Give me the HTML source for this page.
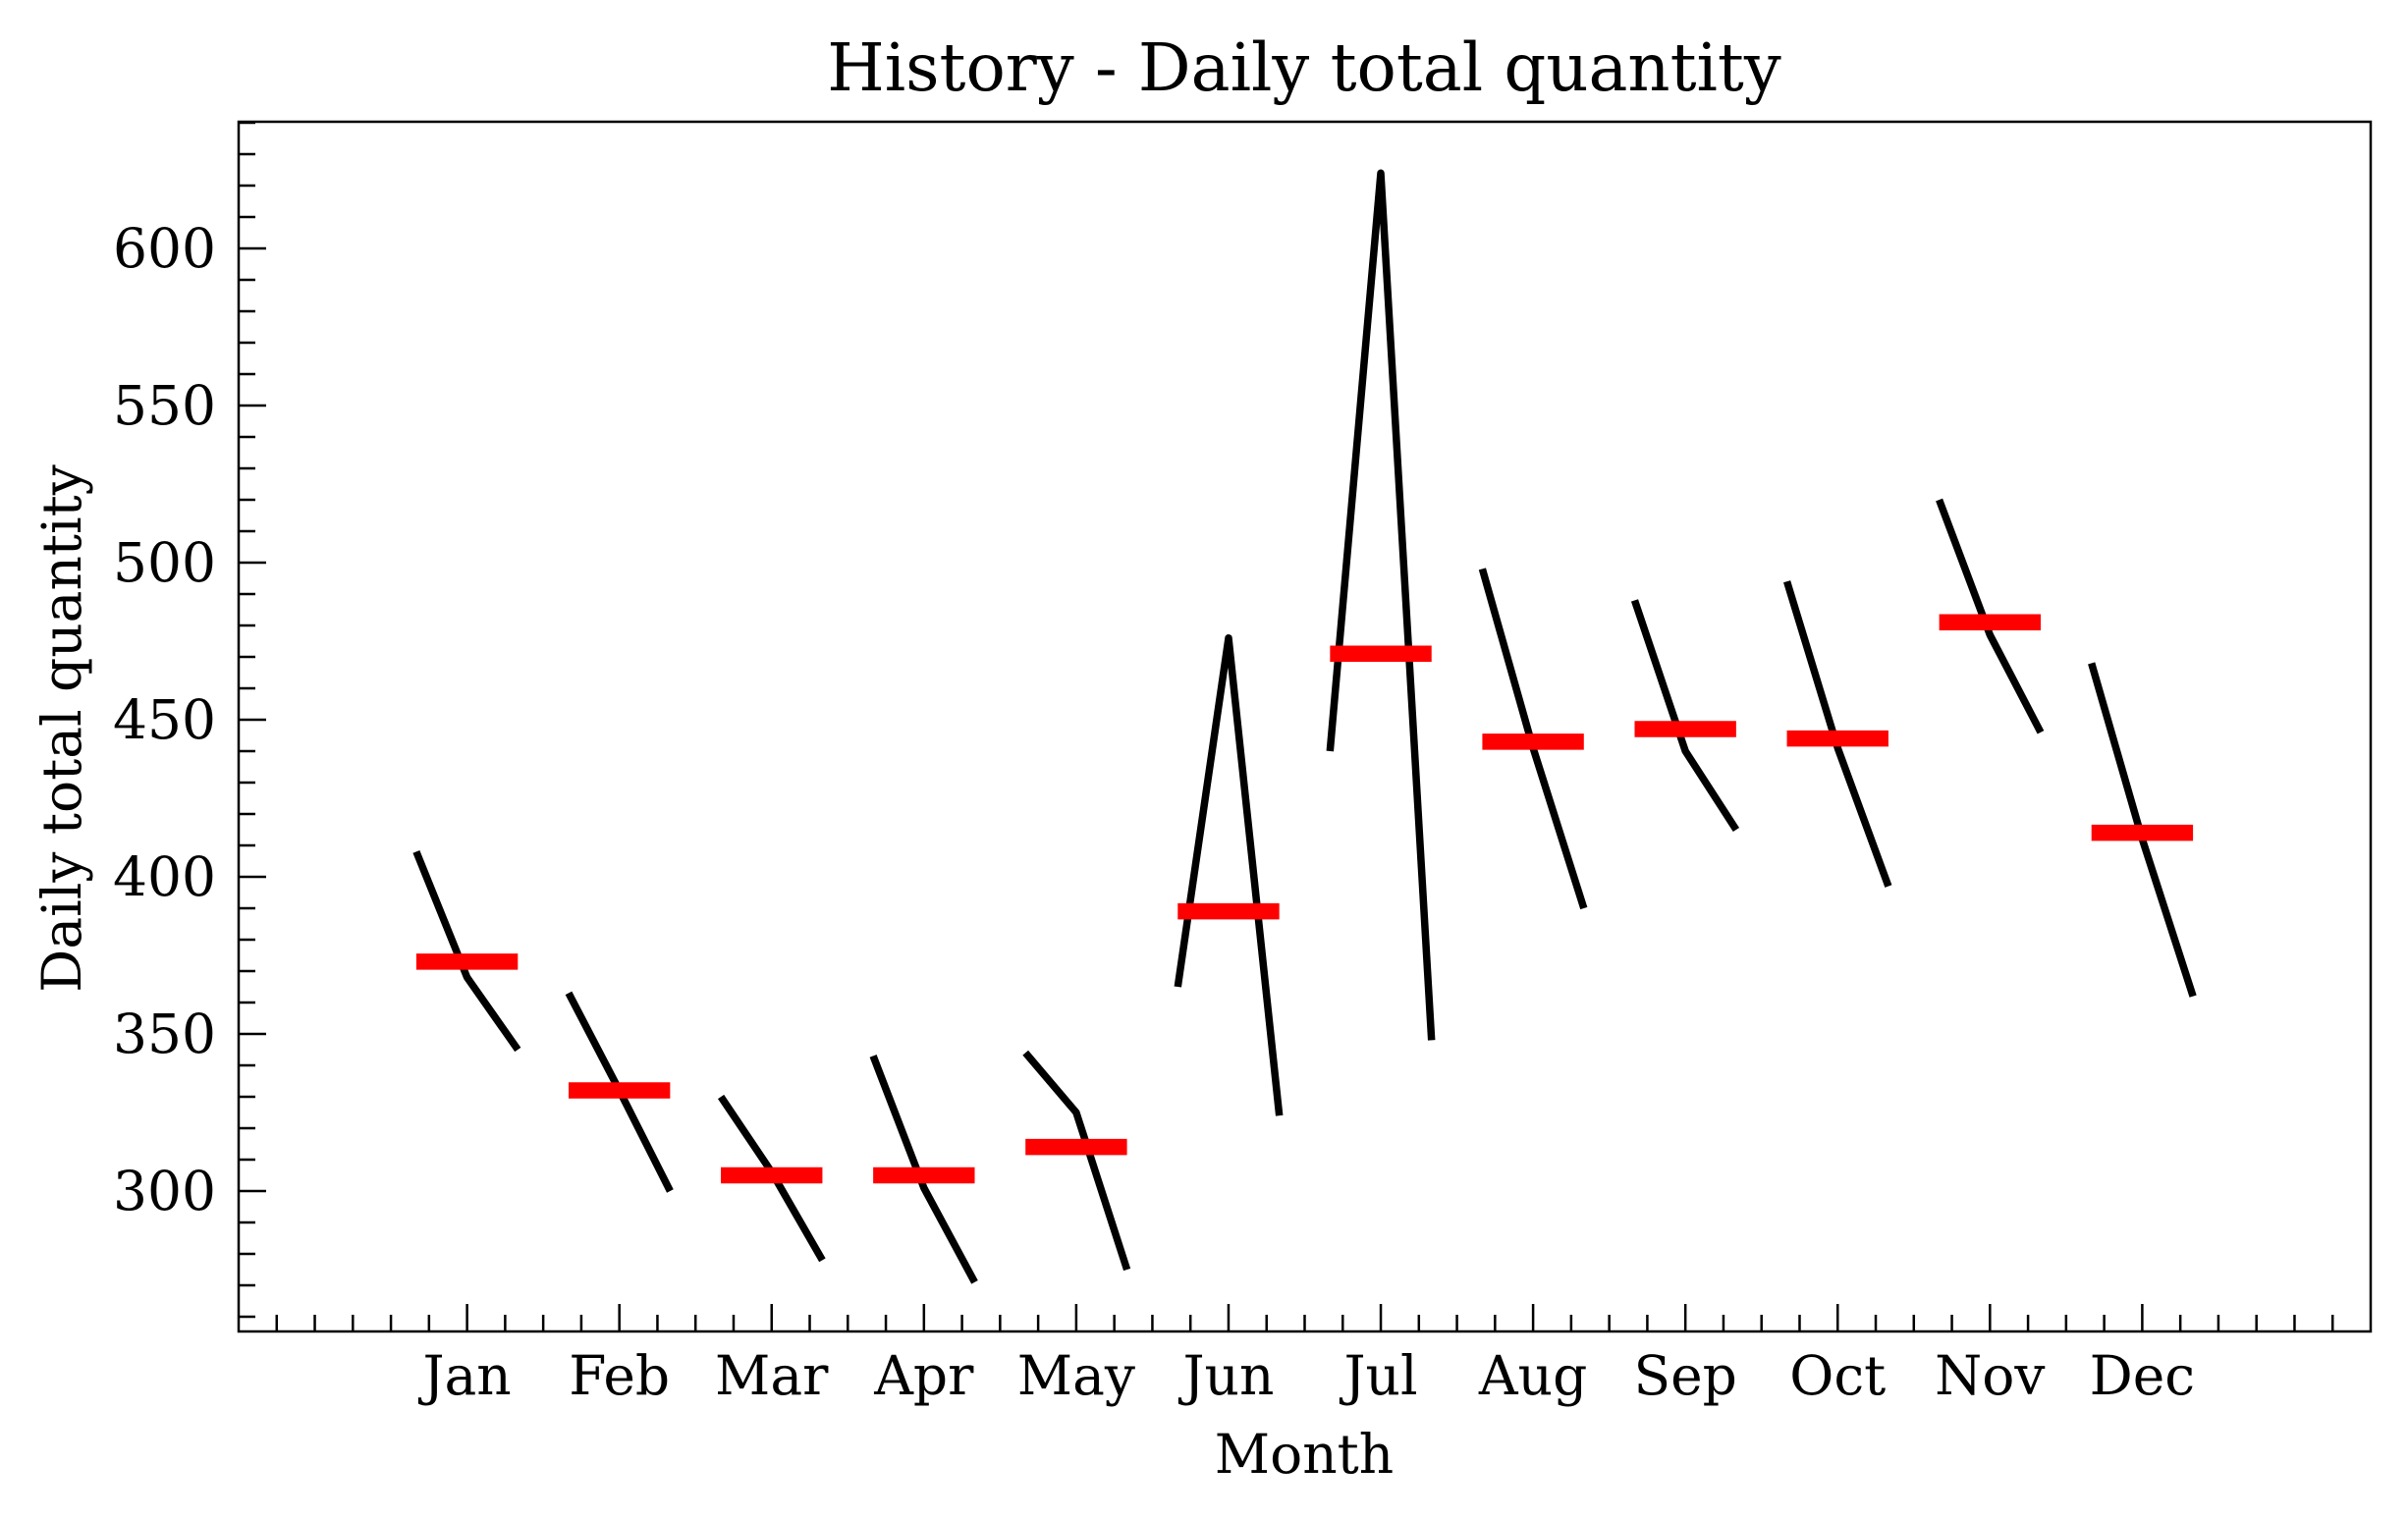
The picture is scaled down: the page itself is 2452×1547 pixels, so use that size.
<!DOCTYPE html>
<html><head><meta charset="utf-8"><style>
html,body{margin:0;padding:0;background:#fff;}
svg{display:block;font-family:"DejaVu Serif","Liberation Serif",serif;}
</style></head><body>
<svg id="chart" width="2452" height="1547" viewBox="0 0 2452 1547">
<rect x="0" y="0" width="2452" height="1547" fill="#fff"/>
<text x="1328" y="92" font-size="67" text-anchor="middle">History - Daily total quantity</text>
<text x="1328" y="1500" font-size="55" text-anchor="middle">Month</text>
<text transform="translate(82,742) rotate(-90)" font-size="55" text-anchor="middle">Daily total quantity</text>
<g id="ticks"></g>
<g id="marks"></g>
<rect x="243" y="124" width="2171" height="1232" fill="none" stroke="#000" stroke-width="2.5"/>
</svg>
<script>
const months = ["Jan","Feb","Mar","Apr","May","Jun","Jul","Aug","Sep","Oct","Nov","Dec"];
const year1 = [408,363,330,343,344,365,440,498,488,494,520,468];
const year2 = [368,332,306,301,325,476,624,441,440,441,477,412];
const year3 = [345,300,278,271,275,324,348,390,415,397,446,362];
const monthMeans = [373,332,305,305,314,389,471,443,447,444,481,414];
const yTicks = [300,350,400,450,500,550,600];

const NS = "http://www.w3.org/2000/svg";
const L = 243, R = 2414, T = 124, B = 1356;
const xMin = -1.5, xMax = 12.5, yMin = 255.3, yMax = 640.3;
function xs(v){ return L + (v - xMin) / (xMax - xMin) * (R - L); }
function ys(v){ return B - (v - yMin) / (yMax - yMin) * (B - T); }
function mk(tag, attrs, parent){ const e = document.createElementNS(NS, tag); for (const k in attrs) e.setAttribute(k, attrs[k]); parent.appendChild(e); return e; }

const tg = document.getElementById("ticks");
const mg = document.getElementById("marks");

for (let v = 260; v <= 640; v += 10) {
  const major = v % 50 === 0;
  const t = mk("line", {x1: L, x2: L + (major ? 28 : 17), y1: ys(v), y2: ys(v), stroke: "#000", "stroke-width": 2.5}, tg);
  
  
}
yTicks.forEach(v => {
  const t = mk("text", {x: 220, y: ys(v) + 19, "font-size": 55, "text-anchor": "end"}, tg);
  t.textContent = v;
  
  
});
for (let q = -5; q <= 49; q++) {
  const v = q / 4;
  if (v <= xMin || v >= xMax) continue;
  const major = q % 4 === 0 && v >= 0 && v <= 11;
  const t = mk("line", {x1: xs(v), x2: xs(v), y1: B, y2: B - (major ? 28 : 17), stroke: "#000", "stroke-width": 2.5}, tg);
  
  
}
months.forEach((m, i) => {
  const t = mk("text", {x: xs(i), y: 1420, "font-size": 55, "text-anchor": "middle"}, tg);
  t.textContent = m;
  
  
});
months.forEach((m, i) => {
  const pts = [[i - 1/3, year1[i]], [i, year2[i]], [i + 1/3, year3[i]]].map(p => xs(p[0]).toFixed(1) + "," + ys(p[1]).toFixed(1)).join(" ");
  const pl = mk("polyline", {points: pts, fill: "none", stroke: "#000", "stroke-width": 7.5, "stroke-linejoin": "round", "stroke-linecap": "butt"}, mg);
  
  
});
months.forEach((m, i) => {
  const ml = mk("line", {x1: xs(i - 1/3), x2: xs(i + 1/3), y1: ys(monthMeans[i]), y2: ys(monthMeans[i]), stroke: "#ff0000", "stroke-width": 16.5}, mg);
  
  
});
</script>
</body></html>
